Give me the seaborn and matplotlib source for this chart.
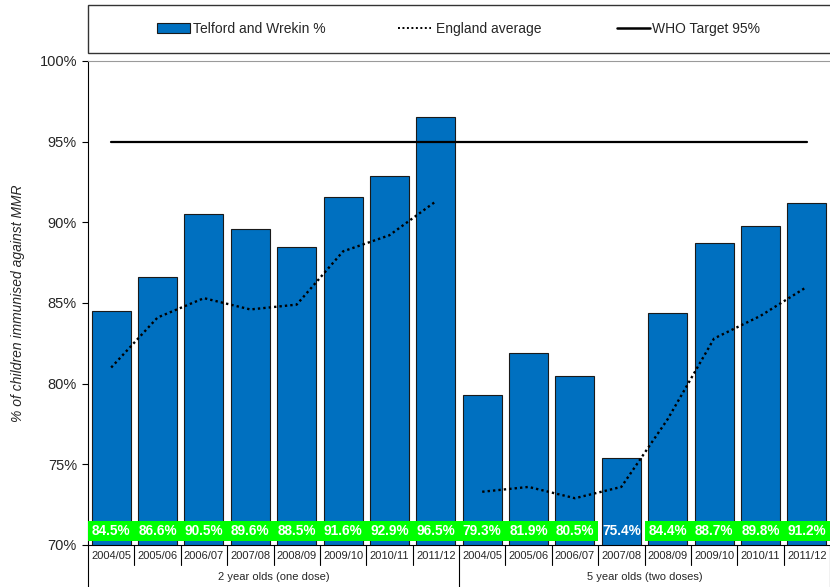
import matplotlib
matplotlib.use("Agg")
import matplotlib.pyplot as plt
import matplotlib.transforms as mtransforms
from matplotlib.patches import Rectangle, Patch
from matplotlib.lines import Line2D
import seaborn as sns
import pandas as pd

# ---- data -------------------------------------------------------------
years = ["2004/05", "2005/06", "2006/07", "2007/08",
         "2008/09", "2009/10", "2010/11", "2011/12"]
groups = ["2 year olds (one dose)", "5 year olds (two doses)"]

telford_2yr = [84.5, 86.6, 90.5, 89.6, 88.5, 91.6, 92.9, 96.5]
telford_5yr = [79.3, 81.9, 80.5, 75.4, 84.4, 88.7, 89.8, 91.2]
england_2yr = [81.0, 84.1, 85.3, 84.6, 84.9, 88.2, 89.2, 91.3]
england_5yr = [73.3, 73.6, 72.9, 73.6, 77.8, 82.8, 84.2, 86.0]
who_target = 95

# ---- styling ------------------------------------------------------------
BAR_BLUE = "#0070C0"
LABEL_GREEN = "#00FF00"
NO_HIGHLIGHT = {11}          # label drawn without the green band

sns.set_style("white")
plt.rcParams["font.family"] = ["Liberation Sans", "DejaVu Sans"]

rows = []
for g, tel, eng in [(groups[0], telford_2yr, england_2yr),
                    (groups[1], telford_5yr, england_5yr)]:
    for y, t, e in zip(years, tel, eng):
        rows.append({"group": g, "year": y, "telford": t, "england": e})
df = pd.DataFrame(rows)
df["slot"] = df["group"] + " " + df["year"]
df["pos"] = range(len(df))
df["who"] = who_target

fig = plt.figure(figsize=(8.30, 5.87), dpi=100)
ax = fig.add_axes([88 / 830, 1 - 545 / 587, 742 / 830, (545 - 61) / 587])

sns.barplot(data=df, x="slot", y="telford", order=list(df["slot"]),
            color=BAR_BLUE, saturation=1, width=0.84,
            edgecolor="#1a1a1a", linewidth=0.8, ax=ax, zorder=2)

# England average, one line per age group
for g in groups:
    sub = df[df["group"] == g]
    ax.plot(sub["pos"], sub["england"], color="black",
            linestyle=(0, (1, 1.3)), linewidth=1.7, zorder=5)

# WHO target across all bars
ax.plot(df["pos"], df["who"], color="black", linewidth=1.6, zorder=4)

ax.set_xlim(-0.5, len(df) - 0.5)
ax.set_ylim(70, 100)
ticks = list(range(70, 101, 5))
ax.set_yticks(ticks)
ax.set_yticklabels([f"{t}%" for t in ticks], fontsize=10.5)
ax.tick_params(axis="y", left=True, length=4, width=0.8, pad=4,
               color="black")
ax.set_xticks(df["pos"])
ax.set_xticklabels(df["year"], fontsize=8)
ax.tick_params(axis="x", length=0, pad=4)
ax.set_xlabel("")
ax.set_ylabel("% of children immunised against MMR", fontsize=10,
              style="italic", labelpad=8)
ax.yaxis.set_label_coords(-0.085, 0.5)

for side in ["left", "bottom"]:
    ax.spines[side].set_color("black")
    ax.spines[side].set_linewidth(0.8)
ax.spines["top"].set_color("#9a9a9a")
ax.spines["top"].set_linewidth(0.8)
ax.spines["right"].set_visible(False)

blend = mtransforms.blended_transform_factory(ax.transData, ax.transAxes)

# value labels in a band at the base of the bars
for i, v in zip(df["pos"], df["telford"]):
    if i not in NO_HIGHLIGHT:
        ax.add_patch(Rectangle((i - 0.5, 0.009), 1.0, 0.0413,
                               transform=blend, facecolor=LABEL_GREEN,
                               edgecolor="none", zorder=3))
    ax.text(i, 0.0295, f"{v:.1f}%", transform=blend, ha="center",
            va="center", color="white", fontsize=9.8, fontweight="bold",
            zorder=6)

# category separators and group labels under the axis
n = len(df)
group_edges = {-0.5, len(years) - 0.5, n - 0.5}
for k in range(n + 1):
    b = k - 0.5
    low = -0.087 if b in group_edges else -0.041
    ax.plot([b, b], [0, low], transform=blend, color="black",
            linewidth=0.8, clip_on=False)
for gi, g in enumerate(groups):
    center = gi * len(years) + (len(years) - 1) / 2
    ax.text(center, -0.066, g, transform=blend, ha="center", va="center",
            fontsize=8)

# legend frame and entries
fig.add_artist(Rectangle((88 / 830, 1 - 53 / 587), 1.0, 48 / 587,
                         transform=fig.transFigure, facecolor="white",
                         edgecolor="#333333", linewidth=1.0))
entries = [
    (Patch(facecolor=BAR_BLUE, edgecolor="#1a1a1a", linewidth=0.8),
     "Telford and Wrekin %", 157, 0.2),
    (Line2D([], [], color="black", linestyle=(0, (1, 1.3)), linewidth=1.4),
     "England average", 398, 0.3),
    (Line2D([], [], color="black", linewidth=1.8),
     "WHO Target 95%", 617, 0.15),
]
for handle, text, xpx, tpad in entries:
    fig.legend([handle], [text], loc="center left",
               bbox_to_anchor=(xpx / 830, 1 - 29 / 587), frameon=False,
               borderpad=0, borderaxespad=0, handlelength=2.4,
               handletextpad=tpad, fontsize=10)

fig.savefig("out.png", dpi=100)
